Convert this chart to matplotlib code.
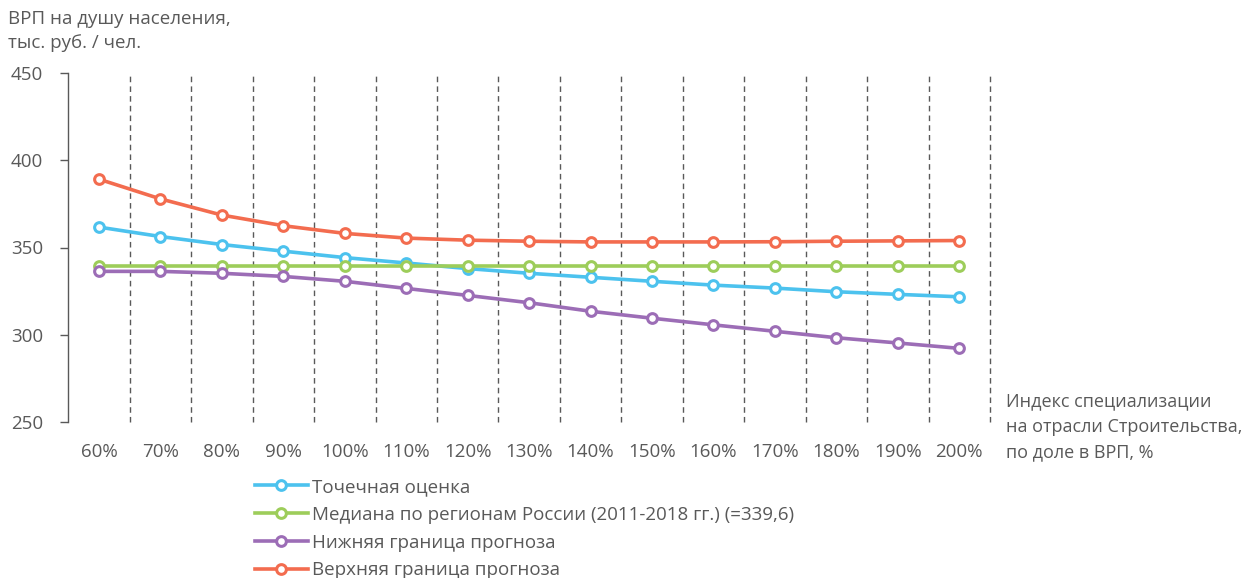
import matplotlib
matplotlib.use("Agg")
import matplotlib.pyplot as plt
import numpy as np

plt.rcParams['font.family'] = ['Open Sans', 'DejaVu Sans']

categories = ["60%", "70%", "80%", "90%", "100%", "110%", "120%", "130%",
              "140%", "150%", "160%", "170%", "180%", "190%", "200%"]
point_est = [361.7, 356.3, 351.7, 347.9, 344.2, 341.1, 337.9, 335.2,
             332.9, 330.6, 328.4, 326.7, 324.6, 323.1, 321.7]
median = [339.6] * 15
lower = [336.3, 336.3, 335.2, 333.4, 330.6, 326.5, 322.5, 318.3,
         313.4, 309.4, 305.6, 301.9, 298.2, 295.2, 292.1]
upper = [389.2, 377.9, 368.6, 362.5, 358.1, 355.4, 354.2, 353.6,
         353.2, 353.2, 353.2, 353.3, 353.6, 353.8, 354.0]

series = [
    ("Точечная оценка", point_est, '#4CC2EE'),
    ("Медиана по регионам России (2011-2018 гг.) (=339,6)", median, '#9DCD5A'),
    ("Нижняя граница прогноза", lower, '#9C6DB6'),
    ("Верхняя граница прогноза", upper, '#F36C4F'),
]

W, H = 1251, 578
fig = plt.figure(figsize=(W / 100, H / 100), dpi=100)
ax = fig.add_axes([68.3 / W, 1 - 421.7 / H, (990 - 68.3) / W, (421.7 - 73.3) / H])

text_color = '#595959'
fs = 13.5
x = np.arange(len(categories))

for i in range(len(categories)):
    ax.axvline(i + 0.5, color='#595959', linestyle=(0, (4, 3)), linewidth=1.0,
               zorder=1, clip_on=False)

handles = []
for label, vals, col in series:
    h, = ax.plot(x, vals, color=col, linewidth=2.6, marker='o', markersize=7,
                 markerfacecolor='white', markeredgecolor=col, markeredgewidth=2.2,
                 label=label, zorder=3)
    handles.append(h)

ax.set_xlim(-0.5, len(categories) - 0.5)
ax.set_ylim(250, 450)
ax.set_yticks([250, 300, 350, 400, 450])
ax.set_xticks(x)
ax.set_xticklabels(categories)
for s in ['top', 'right', 'bottom']:
    ax.spines[s].set_visible(False)
ax.spines['left'].set_color('#595959')
ax.spines['left'].set_linewidth(1.0)
ax.tick_params(axis='y', direction='out', length=6, width=1.0, color='#595959',
               labelsize=fs, labelcolor=text_color, pad=12)
ax.tick_params(axis='x', length=0, labelsize=fs, labelcolor=text_color, pad=15)
ax.set_facecolor('none')

fig.text(8 / W, 1 - 10 / H, "ВРП на душу населения,\nтыс. руб. / чел.",
         ha='left', va='top', fontsize=fs, color=text_color, linespacing=1.45)

fig.text(1006 / W, 1 - 427 / H,
         "Индекс специализации\nна отрасли Строительства,\nпо доле в ВРП, %",
         ha='left', va='center', fontsize=13, color=text_color, linespacing=1.55)

leg = fig.legend(handles=handles, loc='upper left', bbox_to_anchor=(255 / W, 1 - 478 / H),
                 frameon=False, fontsize=fs, handlelength=2.8, handletextpad=0.25,
                 labelspacing=0.52, borderaxespad=0, borderpad=0)
for t in leg.get_texts():
    t.set_color(text_color)

fig.savefig("out.png", dpi=100)
